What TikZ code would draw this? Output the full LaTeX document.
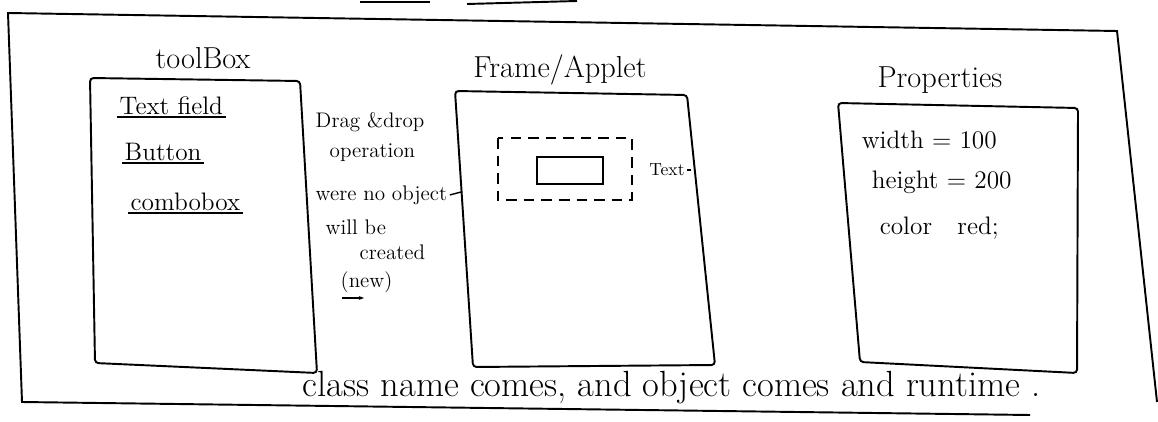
\documentclass[tikz,border=0pt]{standalone}
\usepackage{tikz}
\usetikzlibrary{arrows.meta, calc, positioning}

\begin{document}
\begin{tikzpicture}[x=0.02cm, y=-0.02cm, line width=1.1pt,
  title/.style={font=\LARGE},
  item/.style={font=\Large, anchor=south west, inner sep=1pt},
  prop/.style={font=\Large, anchor=west},
  note/.style={font=\large, anchor=west, inner sep=1pt},
  uline/.style={line width=0.9pt}]
\useasboundingbox (0,0) rectangle (1158,422);

% Coordinates
\coordinate (T1) at (90,78);
\coordinate (T2) at (300,81);
\coordinate (T3) at (317,373);
\coordinate (T4) at (95,363);
\coordinate (F1) at (455,91);
\coordinate (F2) at (687,95);
\coordinate (F3) at (715,365);
\coordinate (F4) at (473,367);
\coordinate (P1) at (838,103);
\coordinate (P2) at (1078,108);
\coordinate (P3) at (1077,373);
\coordinate (P4) at (860,362);

% Outer frame, its bottom is the underline
\draw (1030,415) -- (22,402) -- (8,13) -- (1117,31) -- (1157,402);
% Cut-off title strokes at the top
\draw (360,2) -- (430,2);
\draw (467,4) -- (577,1);

% Boxes
\draw[rounded corners=2pt] (T1) -- (T2) -- (T3) -- (T4) -- cycle;
\draw[rounded corners=2pt] (F1) -- (F2) -- (F3) -- (F4) -- cycle;
\draw[rounded corners=2pt] (P1) -- (P2) -- (P3) -- (P4) -- cycle;

% Box titles
\node[title] (tbox) at (203,58) {toolBox};
\node[title] (frm) at (560,70) {Frame/Applet};
\node[title] (props) at (940,80) {Properties};

% Toolbox items
\node[item] (tf) at (117,117) {Text field};
\node[item] (btn) at (122,163) {Button};
\node[item] (cbx) at (128,213) {combobox};
\draw[uline] (tf.south west) -- (tf.south east);
\draw[uline] (btn.south west) -- (btn.south east);
\draw[uline] (cbx.south west) -- (cbx.south east);

% Drag and drop note
\node[note] (dd) at (313,122) {Drag \&drop};
\node[note] (op) at (327,153) {operation};
\node[note] (wno) at (313,195) {were no object};
\node[note] (wb) at (323,227) {will be};
\node[note] (cr) at (357,252) {created};
\node[note] (nw) at (338,282) {(new)};
\coordinate (hk) at (461,192);
\draw[line width=0.8pt] (wno.east) -- (hk);
\coordinate (a1) at (342,298);
\coordinate (a2) at (364,298);
\draw[line width=0.7pt, -{Stealth[length=3pt]}] (a1) -- (a2);

% Frame contents
\draw[dashed, dash pattern=on 6pt off 4pt] (498,138) rectangle (632,200);
\draw (537,157) rectangle (603,184);
\node[font=\normalsize, inner sep=1pt] (tx) at (667,170) {Text};
\coordinate (tk) at (691,170);
\draw[line width=0.8pt] (tx.east) -- (tk);

% Properties
\node[prop] (wd) at (855,140) {width = 100};
\node[prop] (ht) at (865,182) {height = 200};
\node[prop] (cl) at (873,228) {color\quad red;};

% Bottom remark
\node[font=\huge, anchor=base west, inner sep=0pt] (rmk) at (302,396) {class name comes, and object comes and runtime .};

\end{tikzpicture}
\end{document}
